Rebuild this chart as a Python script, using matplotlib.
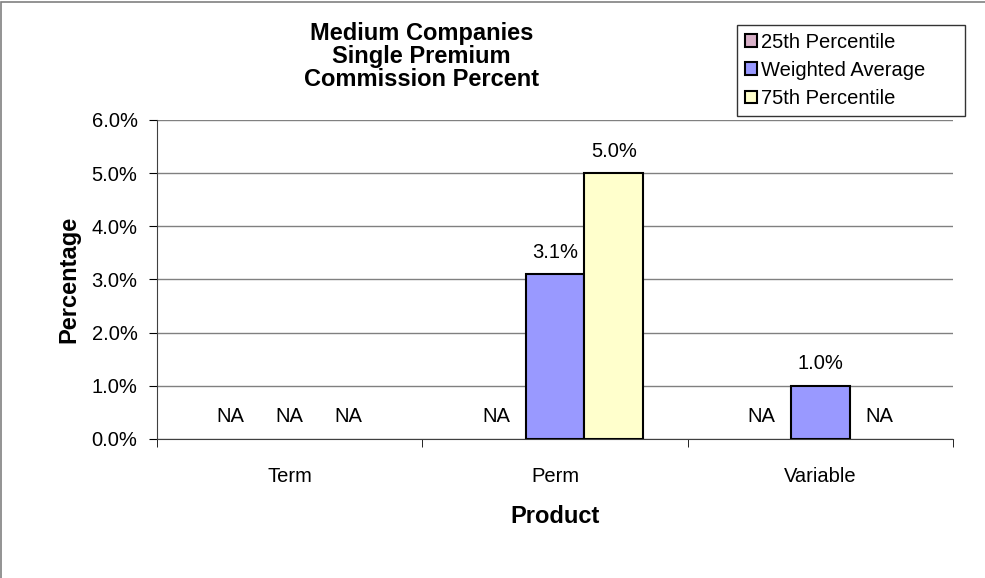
import numpy as np
import matplotlib.pyplot as plt
from matplotlib.patches import Rectangle
from matplotlib.ticker import PercentFormatter

plt.rcParams['font.family'] = ['Liberation Sans', 'DejaVu Sans']

products = ["Term", "Perm", "Variable"]
series = ["25th Percentile", "Weighted Average", "75th Percentile"]
p25 = [np.nan, np.nan, np.nan]
wavg = [np.nan, 3.1, 1.0]
p75 = [np.nan, 5.0, np.nan]
colors = ["#D8B0C8", "#9999FF", "#FFFFCC"]

fig = plt.figure(figsize=(9.85, 5.78), dpi=100)
ax = fig.add_axes([0.1594, 0.2405, 0.8081, 0.5519])

# outer chart border (only top/left visible in the original)
fig.patches.append(Rectangle((0.001, -0.5), 2, 1.496, transform=fig.transFigure,
                             fill=False, edgecolor="#808080", lw=1.2))

x = np.arange(len(products))
w = 0.222
for i, (name, vals) in enumerate(zip(series, [p25, wavg, p75])):
    pos = x + (i - 1) * w
    vals = np.array(vals)
    ax.bar(pos, vals, w, color=colors[i], edgecolor="black",
           lw=1.5, label=name, zorder=3)
    for px, v in zip(pos, vals):
        txt = "NA" if np.isnan(v) else f"{v:.1f}%"
        ax.annotate(txt, (px, 0 if np.isnan(v) else v), xytext=(0, 9),
                    textcoords="offset points", ha="center", va="bottom",
                    fontsize=14.5)

ax.set_ylim(0, 6)
ax.set_yticks(np.arange(0, 7, 1))
ax.yaxis.set_major_formatter(PercentFormatter(decimals=1))
ax.set_xlim(-0.5, 2.5)
ax.set_xticks(x)
ax.set_xticklabels(products)
ax.set_xticks(np.arange(-0.5, 3, 1), minor=True)
ax.tick_params(axis="x", which="major", length=0, pad=20, labelsize=14.5)
ax.tick_params(axis="x", which="minor", length=6, direction="out")
ax.tick_params(axis="y", length=6, direction="out", labelsize=14.5, pad=8)
ax.grid(axis="y", color="#808080", lw=1, zorder=0)
for s in ["top", "right"]:
    ax.spines[s].set_visible(False)
for s in ["left", "bottom"]:
    ax.spines[s].set_color("#404040")

ax.set_ylabel("Percentage", fontsize=17, fontweight="bold", labelpad=8)
ax.set_xlabel("Product", fontsize=17, fontweight="bold", labelpad=14)
fig.text(0.428, 0.962, "Medium Companies\nSingle Premium\nCommission Percent",
         ha="center", va="top", fontsize=17, fontweight="bold", linespacing=1.0)

fig.legend(loc="upper left", bbox_to_anchor=(0.748, 0.957, 0.232, 0.0), mode="expand",
           fontsize=14.5, frameon=True, fancybox=False, edgecolor="black",
           handlelength=0.6, handleheight=0.6, handletextpad=0.2, borderpad=0.4,
           labelspacing=0.45, borderaxespad=0)

fig.savefig("out.png", dpi=100)
